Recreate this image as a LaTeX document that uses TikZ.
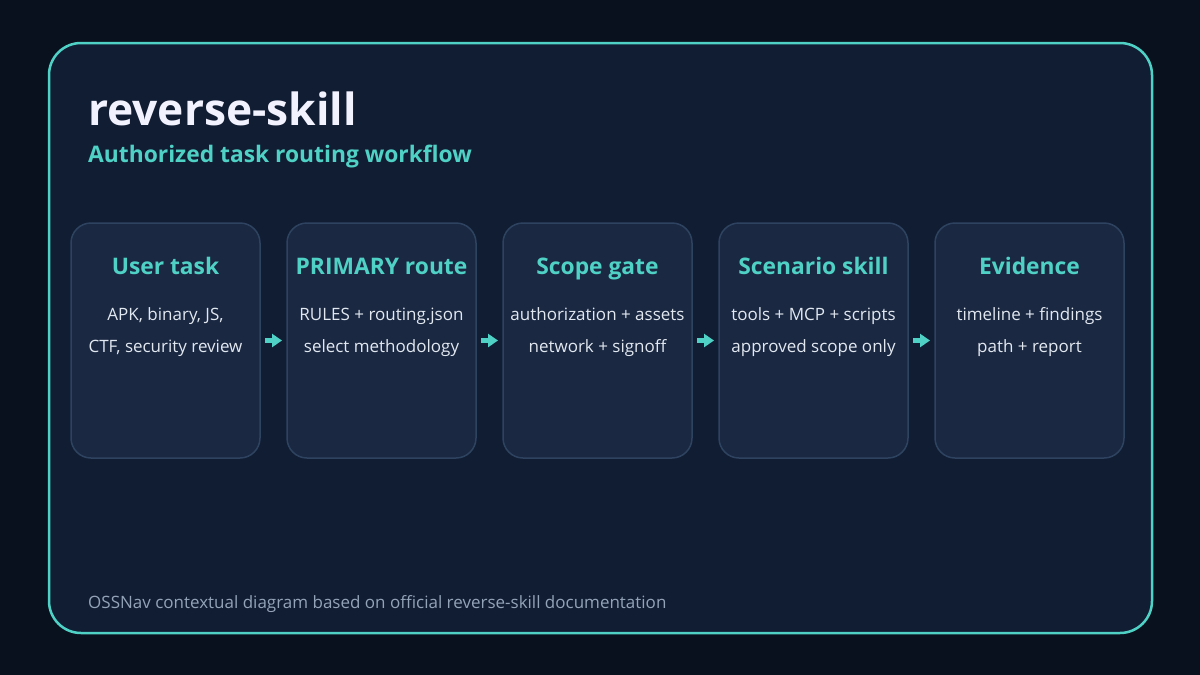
\documentclass[tikz,border=0pt]{standalone}
\usepackage{fontspec}
\setmainfont{Open Sans}
\usetikzlibrary{arrows.meta, positioning}

\definecolor{pagebg}{HTML}{0A111E}
\definecolor{panelbg}{HTML}{111D33}
\definecolor{teal}{HTML}{4FD1C5}
\definecolor{cardbg}{HTML}{1A2842}
\definecolor{cardline}{HTML}{2E4360}
\definecolor{bodytext}{HTML}{E2E8F0}
\definecolor{foottext}{HTML}{94A3B8}

\begin{document}
\begin{tikzpicture}[x=1pt, y=-1pt,
    card/.style={draw=cardline, line width=1.5pt, fill=cardbg,
        rounded corners=20pt, minimum width=189pt, minimum height=235pt,
        inner sep=0pt, outer sep=0pt},
    cardtitle/.style={anchor=base, text=teal,
        font=\bfseries\fontsize{22.8}{26}\selectfont},
    cardbody/.style={anchor=base, text=bodytext, align=center,
        font=\fontsize{17}{32}\selectfont},
    flow/.style={-{Triangle[length=10pt, width=13pt]}, teal,
        line width=5pt}]

    % Fondo y panel
    \fill[pagebg] (0,0) rectangle (1200,675);
    \draw[teal, line width=2.5pt, fill=panelbg, rounded corners=32pt]
        (49,43) rectangle (1152,633);

    % Titulos
    \node[anchor=base west, inner sep=0pt, text=white!95!blue,
        font=\bfseries\fontsize{44.3}{50}\selectfont] (title) at (88,125)
        {reverse-skill};
    \node[anchor=base west, inner sep=0pt, text=teal,
        font=\bfseries\fontsize{22.8}{26}\selectfont] (subtitle) at (88,162)
        {Authorized task routing workflow};

    % Tarjetas
    \node[card] (user) at (165.5,340.5) {};
    \node[card, right=27pt of user] (primary) {};
    \node[card, right=27pt of primary] (scope) {};
    \node[card, right=27pt of scope] (scenario) {};
    \node[card, right=27pt of scenario] (evidence) {};

    % Textos de las tarjetas
    \foreach \n/\t/\b in {user/User task/{APK, binary, JS,\\CTF, security review},
        primary/PRIMARY route/{RULES + routing.json\\select methodology},
        scope/Scope gate/{authorization + assets\\network + signoff},
        scenario/Scenario skill/{tools + MCP + scripts\\approved scope only},
        evidence/Evidence/{timeline + findings\\path + report}}{
        \node[cardtitle] (\n-title) at ([yshift=-51pt]\n.north) {\t};
        \node[cardbody] (\n-body) at ([yshift=-129pt]\n.north) {\b};
    }

    % Flechas entre tarjetas
    \foreach \a/\b in {user/primary, primary/scope, scope/scenario,
        scenario/evidence}{
        \draw[flow] ([xshift=5pt]\a.east) -- ([xshift=-5pt]\b.west);
    }

    % Pie
    \node[anchor=base west, inner sep=0pt, text=foottext,
        font=\fontsize{17}{20}\selectfont] (footer) at (88,608)
        {OSSNav contextual diagram based on official reverse-skill documentation};
\end{tikzpicture}
\end{document}
